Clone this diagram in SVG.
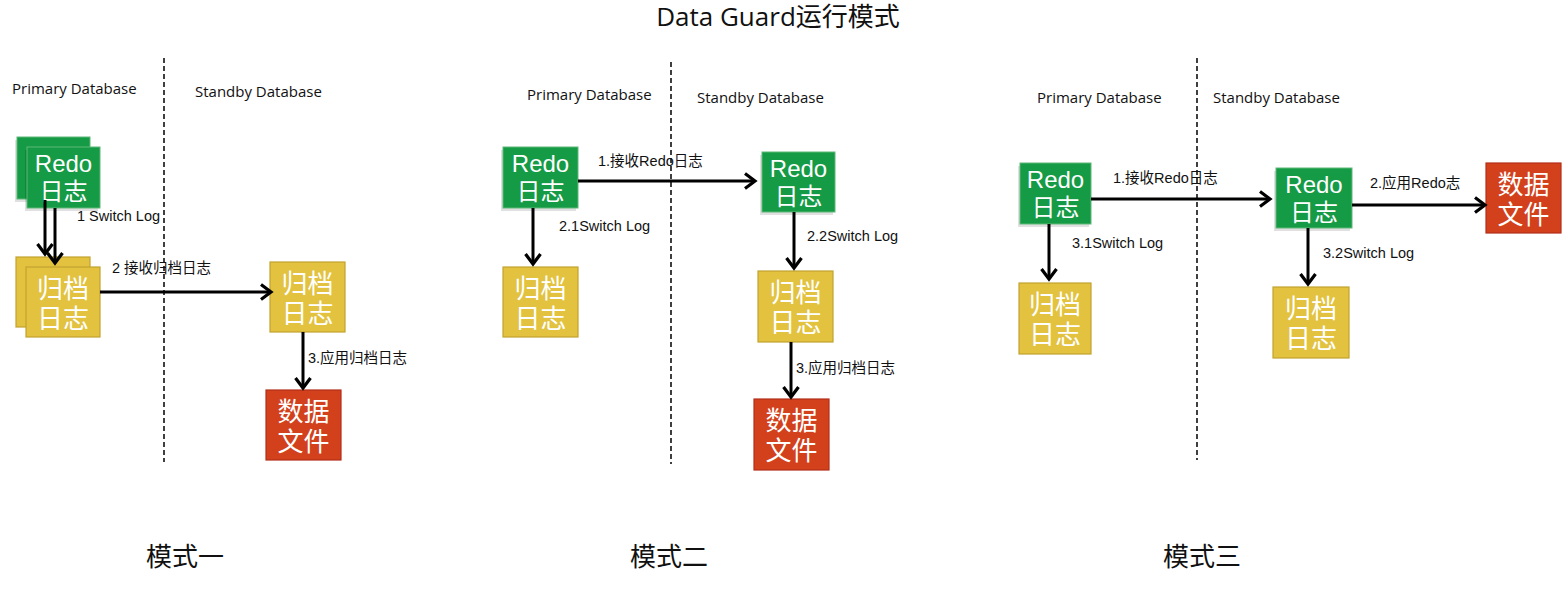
<svg xmlns="http://www.w3.org/2000/svg" width="1562" height="600" viewBox="0 0 1562 600">
<style>
.bg{fill:#ffffff}
.green{fill:#159a45;stroke:#5fb878;stroke-width:1}
.yellow{fill:#e2c23e;stroke:#c2a230;stroke-width:1.2}
.red{fill:#d3401c;stroke:#b3301a;stroke-width:1.2}
.shadow{fill:#000;opacity:0.12}
.bt{fill:#fff;font-family:"Liberation Sans","Noto Sans CJK SC",sans-serif;text-anchor:middle}
.redo{font-size:24px}
.cjk{font-size:26px}
.hdr{font-family:"Open Sans","Noto Sans CJK SC",sans-serif;font-size:15px;fill:#111}
.lbl{font-family:"Liberation Sans","Noto Sans CJK SC",sans-serif;font-size:14.5px;fill:#111}
.title{font-family:"Open Sans","Noto Sans CJK SC",sans-serif;font-size:26px;fill:#111;text-anchor:middle}
.mode{font-family:"Noto Sans CJK SC",sans-serif;font-size:26px;fill:#111}
.dash{stroke:#111;stroke-width:1.6;stroke-dasharray:5,3;fill:none}
.arr{stroke:#000;stroke-width:3;fill:none;marker-end:url(#ah)}
</style>
<defs>
<marker id="ah" markerUnits="userSpaceOnUse" markerWidth="18" markerHeight="18" viewBox="0 0 18 18" refX="15" refY="9" orient="auto">
<path d="M5,1.5 L15,9 L5,16.5" fill="none" stroke="#000" stroke-width="3.2"/>
</marker>
</defs>
<rect class="bg" x="0" y="0" width="1562" height="600"/>
<text class="title" x="778" y="26">Data Guard运行模式</text>

<g id="dividers">
<line class="dash" x1="164" y1="58" x2="164" y2="462"/>
<line class="dash" x1="671" y1="62" x2="671" y2="464"/>
<line class="dash" x1="1197" y1="58" x2="1197" y2="460"/>
</g>

<g id="headers">
<text class="hdr" x="12" y="94">Primary Database</text>
<text class="hdr" x="195" y="97">Standby Database</text>
<text class="hdr" x="527" y="100">Primary Database</text>
<text class="hdr" x="697" y="103">Standby Database</text>
<text class="hdr" x="1037" y="103">Primary Database</text>
<text class="hdr" x="1213" y="103">Standby Database</text>
</g>

<!-- Mode 1 -->
<g id="m1-redo-back"><rect class="shadow" x="15" y="140" width="73" height="62"/><rect class="green" x="17" y="137" width="73" height="62"/></g>
<g id="m1-redo"><rect class="shadow" x="25" y="150" width="73" height="61"/><rect class="green" x="27" y="147" width="73" height="61"/>
<text class="bt redo" x="63.5" y="172">Redo</text><text class="bt redo" x="63.5" y="200">日志</text></g>
<g id="m1-arch-back"><rect class="yellow" x="16" y="257" width="74" height="70"/></g>
<g id="m1-arch"><rect class="yellow" x="26" y="267" width="74" height="70"/>
<text class="bt cjk" x="63" y="298">归档</text><text class="bt cjk" x="63" y="328">日志</text></g>
<g id="m1-arch-s"><rect class="yellow" x="270" y="262" width="75" height="70"/>
<text class="bt cjk" x="307.5" y="293">归档</text><text class="bt cjk" x="307.5" y="323">日志</text></g>
<g id="m1-data"><rect class="red" x="266" y="390" width="75" height="70"/>
<text class="bt cjk" x="303.5" y="421">数据</text><text class="bt cjk" x="303.5" y="451">文件</text></g>

<!-- Mode 2 -->
<g id="m2-redo-p"><rect class="shadow" x="501" y="150" width="75" height="61"/><rect class="green" x="503" y="147" width="75" height="61"/>
<text class="bt redo" x="540.5" y="172">Redo</text><text class="bt redo" x="540.5" y="200">日志</text></g>
<g id="m2-arch-p"><rect class="yellow" x="503" y="267" width="75" height="70"/>
<text class="bt cjk" x="540.5" y="298">归档</text><text class="bt cjk" x="540.5" y="328">日志</text></g>
<g id="m2-redo-s"><rect class="shadow" x="760" y="155" width="73" height="60"/><rect class="green" x="762" y="152" width="73" height="60"/>
<text class="bt redo" x="798.5" y="177">Redo</text><text class="bt redo" x="798.5" y="205">日志</text></g>
<g id="m2-arch-s"><rect class="yellow" x="758" y="271" width="75" height="71"/>
<text class="bt cjk" x="795.5" y="302">归档</text><text class="bt cjk" x="795.5" y="332">日志</text></g>
<g id="m2-data"><rect class="red" x="754" y="399" width="75" height="71"/>
<text class="bt cjk" x="791.5" y="430">数据</text><text class="bt cjk" x="791.5" y="460">文件</text></g>

<!-- Mode 3 -->
<g id="m3-redo-p"><rect class="shadow" x="1018" y="166" width="71" height="61"/><rect class="green" x="1020" y="163" width="71" height="61"/>
<text class="bt redo" x="1055.5" y="188">Redo</text><text class="bt redo" x="1055.5" y="216">日志</text></g>
<g id="m3-arch-p"><rect class="yellow" x="1019" y="283" width="72" height="71"/>
<text class="bt cjk" x="1055" y="314">归档</text><text class="bt cjk" x="1055" y="344">日志</text></g>
<g id="m3-redo-s"><rect class="shadow" x="1274" y="171" width="76" height="60"/><rect class="green" x="1276" y="168" width="76" height="60"/>
<text class="bt redo" x="1314" y="193">Redo</text><text class="bt redo" x="1314" y="221">日志</text></g>
<g id="m3-data"><rect class="red" x="1486" y="163" width="75" height="70"/>
<text class="bt cjk" x="1523.5" y="194">数据</text><text class="bt cjk" x="1523.5" y="224">文件</text></g>
<g id="m3-arch-s"><rect class="yellow" x="1273" y="287" width="76" height="71"/>
<text class="bt cjk" x="1311" y="318">归档</text><text class="bt cjk" x="1311" y="348">日志</text></g>

<g id="connectors">
<line class="arr" x1="45" y1="200" x2="45" y2="254"/>
<line class="arr" x1="55" y1="208" x2="55" y2="263"/>
<line class="arr" x1="100" y1="292" x2="271" y2="292"/>
<line class="arr" x1="303" y1="332" x2="303" y2="388"/>
<line class="arr" x1="578" y1="181" x2="755" y2="181"/>
<line class="arr" x1="533" y1="208" x2="533" y2="264"/>
<line class="arr" x1="794" y1="212" x2="794" y2="268"/>
<line class="arr" x1="791" y1="342" x2="791" y2="397"/>
<line class="arr" x1="1091" y1="199" x2="1270" y2="199"/>
<line class="arr" x1="1352" y1="205" x2="1485" y2="205"/>
<line class="arr" x1="1049" y1="224" x2="1049" y2="279"/>
<line class="arr" x1="1308" y1="228" x2="1308" y2="284"/>
</g>

<g id="edge-labels">
<text class="lbl" x="77" y="221">1 Switch Log</text>
<text class="lbl" x="112" y="273">2 接收归档日志</text>
<text class="lbl" x="308" y="363">3.应用归档日志</text>
<text class="lbl" x="598" y="166">1.接收Redo日志</text>
<text class="lbl" x="559" y="231">2.1Switch Log</text>
<text class="lbl" x="807" y="241">2.2Switch Log</text>
<text class="lbl" x="796" y="373">3.应用归档日志</text>
<text class="lbl" x="1113" y="183">1.接收Redo日志</text>
<text class="lbl" x="1370" y="188">2.应用Redo志</text>
<text class="lbl" x="1072" y="248">3.1Switch Log</text>
<text class="lbl" x="1323" y="258">3.2Switch Log</text>
</g>

<g id="mode-labels">
<text class="mode" x="146" y="566">模式一</text>
<text class="mode" x="630" y="566">模式二</text>
<text class="mode" x="1163" y="566">模式三</text>
</g>
</svg>
